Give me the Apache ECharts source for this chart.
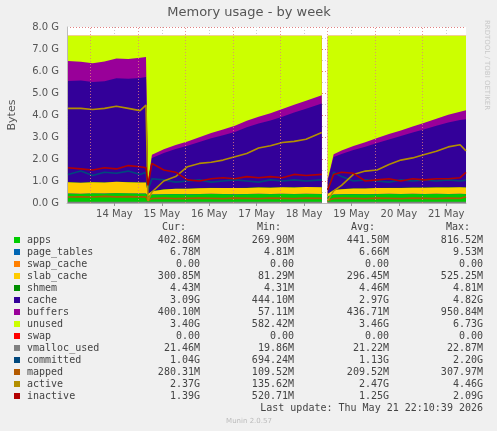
<!DOCTYPE html>
<html><head><meta charset="utf-8">
<script src="https://cdn.jsdelivr.net/npm/echarts@6/dist/echarts.min.js"></script>
<style>html,body{margin:0;padding:0;background:#F0F0F0}#c{width:497px;height:431px}</style>
</head><body><div id="c"></div>
<script>
// hours since 13 May 00:00
const times = [12.5,19,25,31,37,43,49,52,53,55,61,67,73,79,85,91,97,103,109,115,121,127,133,141,142.5,144,147,151,157,163,169,175,181,187,193,199,205,211,214];
const dayLabels = ['14 May','15 May','16 May','17 May','18 May','19 May','20 May','21 May'];
const dayLabelHours = [36,60,84,108,132,156,180,204];
const midnightHours = [24,48,72,96,120,144,168,192];
const yTicks = [0,1,2,3,4,5,6,7,8];

const apps = [0.42,0.41,0.43,0.42,0.44,0.43,0.42,0.42,0.3,0.38,0.39,0.40,0.39,0.40,0.41,0.40,0.39,0.40,0.41,0.40,0.41,0.40,0.41,0.40,null,0.3,0.38,0.39,0.40,0.39,0.40,0.41,0.40,0.41,0.40,0.41,0.40,0.41,0.40];
const page_tables = [0.007,0.007,0.007,0.007,0.007,0.007,0.007,0.007,0.007,0.007,0.007,0.007,0.007,0.007,0.007,0.007,0.007,0.007,0.007,0.007,0.007,0.007,0.007,0.007,null,0.007,0.007,0.007,0.007,0.007,0.007,0.007,0.007,0.007,0.007,0.007,0.007,0.007,0.007];
const swap_cache = [0,0,0,0,0,0,0,0,0,0,0,0,0,0,0,0,0,0,0,0,0,0,0,0,null,0,0,0,0,0,0,0,0,0,0,0,0,0,0];
const slab_cache = [0.52,0.50,0.51,0.50,0.52,0.51,0.50,0.50,0.1,0.15,0.22,0.24,0.25,0.26,0.27,0.27,0.28,0.28,0.29,0.29,0.30,0.30,0.31,0.31,null,0.1,0.2,0.23,0.25,0.26,0.27,0.27,0.28,0.28,0.29,0.29,0.30,0.30,0.30];
const shmem = [0.004,0.004,0.004,0.004,0.004,0.004,0.004,0.004,0.004,0.004,0.004,0.004,0.004,0.004,0.004,0.004,0.004,0.004,0.004,0.004,0.004,0.004,0.004,0.004,null,0.004,0.004,0.004,0.004,0.004,0.004,0.004,0.004,0.004,0.004,0.004,0.004,0.004,0.004];
const cache = [4.6,4.65,4.55,4.6,4.7,4.7,4.75,4.8,0.5,1.5,1.65,1.8,1.95,2.1,2.25,2.4,2.55,2.75,2.9,3.05,3.2,3.4,3.55,3.8,null,0.6,1.5,1.6,1.75,1.9,2.05,2.2,2.35,2.5,2.65,2.8,2.95,3.05,3.1];
const buffers = [0.9,0.85,0.85,0.9,0.9,0.9,0.92,0.9,0.05,0.15,0.17,0.19,0.2,0.22,0.24,0.26,0.28,0.3,0.31,0.33,0.35,0.36,0.37,0.38,null,0.05,0.12,0.15,0.18,0.2,0.22,0.24,0.26,0.28,0.3,0.32,0.35,0.38,0.40];
const unused = [1.15,1.18,1.25,1.17,1.03,1.05,1.0,0.97,6.64,5.41,5.16,4.96,4.80,4.61,4.42,4.26,4.09,3.86,3.68,3.52,3.33,3.13,2.95,2.70,null,6.54,5.39,5.22,5.01,4.84,4.65,4.47,4.30,4.12,3.95,3.77,3.59,3.45,3.39];
const swap = [0,0,0,0,0,0,0,0,0,0,0,0,0,0,0,0,0,0,0,0,0,0,0,0,null,0,0,0,0,0,0,0,0,0,0,0,0,0,0];
const vmalloc_used = [0.021,0.021,0.021,0.021,0.021,0.021,0.021,0.021,0.021,0.021,0.021,0.021,0.021,0.021,0.021,0.021,0.021,0.021,0.021,0.021,0.021,0.021,0.021,0.021,null,0.021,0.021,0.021,0.021,0.021,0.021,0.021,0.021,0.021,0.021,0.021,0.021,0.021,0.021];
const committed = [1.3,1.45,1.25,1.4,1.35,1.45,1.3,1.4,0.6,1.1,1.05,0.95,1.0,1.05,0.95,1.0,1.05,1.0,0.95,1.05,1.0,1.05,1.0,1.05,null,0.6,1.4,1.2,1.0,1.05,1.0,0.95,1.05,1.0,1.05,1.0,1.05,1.0,1.04];
const mapped = [0.27,0.28,0.27,0.3,0.28,0.29,0.28,0.28,0.11,0.2,0.22,0.2,0.21,0.22,0.21,0.2,0.22,0.21,0.2,0.22,0.21,0.2,0.22,0.21,null,0.11,0.2,0.22,0.21,0.2,0.22,0.21,0.2,0.22,0.21,0.2,0.22,0.21,0.28];
const active = [4.3,4.3,4.25,4.3,4.4,4.3,4.2,4.45,0.1,0.5,1.0,1.2,1.65,1.8,1.85,1.95,2.1,2.25,2.5,2.6,2.75,2.8,2.9,3.2,null,0.1,0.55,0.8,1.3,1.45,1.5,1.75,1.95,2.05,2.2,2.35,2.55,2.65,2.37];
const inactive = [1.6,1.55,1.5,1.6,1.55,1.7,1.65,1.6,0.8,1.8,1.5,1.4,1.05,1.0,1.1,1.15,1.1,1.2,1.15,1.2,1.15,1.3,1.25,1.3,null,0.6,1.3,1.4,1.35,1.0,1.05,1.1,1.0,1.1,1.05,1.1,1.1,1.15,1.39];

const legendRows = [
 ['apps','#00CC00','402.86M','269.90M','441.50M','816.52M'],
 ['page_tables','#0066B3','6.78M','4.81M','6.66M','9.53M'],
 ['swap_cache','#FF8000','0.00','0.00','0.00','0.00'],
 ['slab_cache','#FFCC00','300.85M','81.29M','296.45M','525.25M'],
 ['shmem','#008F00','4.43M','4.31M','4.46M','4.81M'],
 ['cache','#330099','3.09G','444.10M','2.97G','4.82G'],
 ['buffers','#990099','400.10M','57.11M','436.71M','950.84M'],
 ['unused','#CCFF00','3.40G','582.42M','3.46G','6.73G'],
 ['swap','#FF0000','0.00','0.00','0.00','0.00'],
 ['vmalloc_used','#808080','21.46M','19.86M','21.22M','22.87M'],
 ['committed','#00487D','1.04G','694.24M','1.13G','2.20G'],
 ['mapped','#B35A00','280.31M','109.52M','209.52M','307.97M'],
 ['active','#B38F00','2.37G','135.62M','2.47G','4.46G'],
 ['inactive','#B30000','1.39G','520.71M','1.25G','2.09G']
];

const areaNames = ['apps','page_tables','swap_cache','slab_cache','shmem','cache','buffers','unused','swap'];
const areaData = [apps,page_tables,swap_cache,slab_cache,shmem,cache,buffers,unused,swap];
const lineNames = ['vmalloc_used','committed','mapped','active','inactive'];
const lineData = [vmalloc_used,committed,mapped,active,inactive];
const colorOf = Object.fromEntries(legendRows.map(r=>[r[0],r[1]]));

const running = times.map(()=>0);
const series = [];
areaNames.forEach((n,k)=>{
  const d = times.map((t,i)=>{
    if (areaData[k][i]===null) return [t,null];
    running[i] += areaData[k][i];
    return [t, running[i]];
  });
  series.push({name:n,type:'line',data:d,symbol:'none',connectNulls:false,
    lineStyle:{width:0},areaStyle:{color:colorOf[n],opacity:1},itemStyle:{color:colorOf[n]},z:2});
});
series.reverse();
lineNames.forEach((n,k)=>series.push({
  name:n,type:'line',data:times.map((t,i)=>[t,lineData[k][i]]),symbol:'none',connectNulls:false,
  lineStyle:{width:1.6,color:colorOf[n]},itemStyle:{color:colorOf[n]},z:3
}));
series.push({type:'line',data:[],markLine:{silent:true,symbol:'none',label:{show:false},
  lineStyle:{color:'#e08080',type:[1,2],width:1,opacity:0.8},
  data:midnightHours.map(h=>({xAxis:h}))},z:4});

const mono = 'DejaVu Sans Mono';
const graphics = [];
const rowY0 = 240, dy = 12;
[['Cur:',186],['Min:',281],['Avg:',375],['Max:',470]].forEach(([t,x])=>graphics.push({type:'text',x:x,y:227,style:{text:t,font:'10px '+mono,fill:'#444',align:'right',verticalAlign:'middle'}}));
legendRows.forEach((r,i)=>{
  const y = rowY0+i*dy;
  graphics.push({type:'rect',shape:{x:14,y:y-3,width:6,height:6},style:{fill:r[1]}});
  graphics.push({type:'text',x:27,y:y,style:{text:r[0],font:'10px '+mono,fill:'#444',verticalAlign:'middle'}});
  [200,294,389,483].forEach((x,j)=>graphics.push({type:'text',x:x,y:y,style:{text:r[2+j],font:'10px '+mono,fill:'#444',align:'right',verticalAlign:'middle'}}));
});
graphics.push({type:'text',x:483,y:408,style:{text:'Last update: Thu May 21 22:10:39 2026',font:'10px '+mono,fill:'#444',align:'right',verticalAlign:'middle'}});
graphics.push({type:'text',x:249,y:421,style:{text:'Munin 2.0.57',font:'7px DejaVu Sans',fill:'#bbb',align:'center',verticalAlign:'middle'}});
graphics.push({type:'text',x:249,y:13,style:{text:'Memory usage - by week',font:'13px DejaVu Sans',fill:'#555',align:'center',verticalAlign:'middle'}});
graphics.push({type:'text',x:12,y:115,rotation:Math.PI/2,style:{text:'Bytes',font:'11px DejaVu Sans',fill:'#555',align:'center',verticalAlign:'middle'}});
graphics.push({type:'text',x:487,y:65,rotation:-Math.PI/2,style:{text:'RRDTOOL / TOBI OETIKER',font:'7px DejaVu Sans',fill:'#c8c8c8',align:'center',verticalAlign:'middle'}});

const chart = echarts.init(document.getElementById('c'),null,{renderer:'canvas'});
chart.setOption({
  animation:false,
  backgroundColor:'#F0F0F0',
  grid:{left:67,right:31,top:27,bottom:228,show:true,backgroundColor:'#FFFFFF',borderWidth:0},
  xAxis:{type:'value',min:12,max:214,interval:6,
    axisLine:{show:true,lineStyle:{color:'#bbb'}},
    axisTick:{show:true,customValues:dayLabelHours,length:3,lineStyle:{color:'#999'}},
    axisLabel:{customValues:dayLabelHours,formatter:v=>dayLabels[dayLabelHours.indexOf(v)]||'',color:'#555',fontSize:10,fontFamily:'DejaVu Sans',margin:6},
    splitLine:{show:true,lineStyle:{color:'#ccc',type:[1,2],width:1}}},
  yAxis:{type:'value',min:0,max:8,interval:1,
    axisLine:{show:true,lineStyle:{color:'#bbb'}},
    axisTick:{show:false},
    axisLabel:{formatter:v=>yTicks.includes(v)?v.toFixed(1)+' G':'',color:'#555',fontSize:10,fontFamily:'DejaVu Sans'},
    splitLine:{show:true,lineStyle:{color:'#e08080',type:[1,2],width:1}},
    minorTick:{show:false,splitNumber:2},
    minorSplitLine:{show:true,lineStyle:{color:'#ccc',type:[1,2]}}},
  series:series,
  graphic:graphics
});
</script></body></html>
